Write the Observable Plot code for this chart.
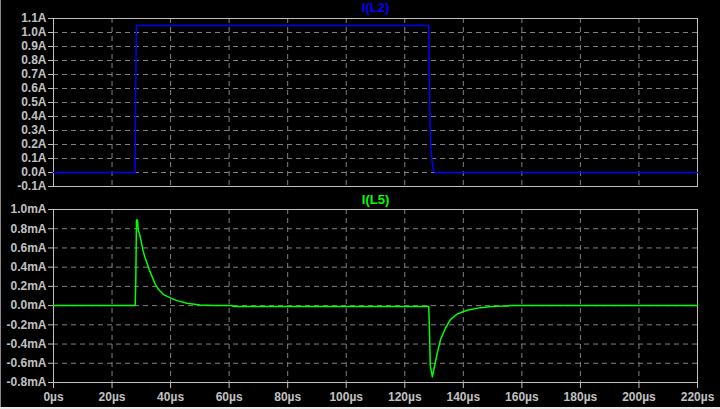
<!DOCTYPE html>
<html>
<head>
<meta charset="utf-8">
<script src="https://cdn.jsdelivr.net/npm/d3@7"></script>
<script src="https://cdn.jsdelivr.net/npm/@observablehq/plot@0.6"></script>
<style>
  html, body { margin: 0; padding: 0; background: #000; }
  #wrap { position: relative; width: 720px; height: 409px; background: #000; overflow: hidden; }
  #wrap svg { display: block; }
  .bl { position: absolute; left: 0; top: 0; width: 1px; height: 409px; background: #8a8a8a; }
  .bb { position: absolute; left: 0; top: 407px; width: 720px; height: 2px; background: #e8e8e8; }
</style>
</head>
<body>
<div id="wrap"></div>
<script>
// I(L2) in amperes
const tL2 = [0, 27.9, 27.95, 28.3, 128.2, 128.4, 128.7, 129.0, 129.4, 129.8, 130.3, 220];
const iL2 = [0, 0, 0.27, 1.05, 1.05, 0.66, 0.31, 0.15, 0.06, 0.02, 0, 0];

// I(L5) in milliamperes
const tL5 = [0, 27.9, 28.1, 28.35, 28.7, 28.95, 29.4, 29.9, 30.5, 31.1, 31.9, 32.7, 33.6, 34.8, 35.9, 37.6, 39.9, 42.2, 45.6, 50.1, 55, 61, 61.5,
             128.2, 128.5, 128.7, 129.4, 129.9, 131.1, 132.2, 133.9, 135.6, 137.9, 141.3, 145.9, 150.5, 155.5, 155.6, 220];
const iL5 = [0, 0, 0.24, 0.89, 0.89, 0.78, 0.745, 0.676, 0.585, 0.516, 0.446, 0.376, 0.307, 0.22, 0.167, 0.115, 0.08, 0.052, 0.024, 0.007, 0.002, 0, -0.01,
             -0.01, -0.34, -0.62, -0.74, -0.67, -0.495, -0.355, -0.233, -0.146, -0.087, -0.049, -0.021, -0.007, -0.003, 0, 0];

const xTicks = [0, 20, 40, 60, 80, 100, 120, 140, 160, 180, 200, 220];
const yTicksL2 = [-0.1, 0, 0.1, 0.2, 0.3, 0.4, 0.5, 0.6, 0.7, 0.8, 0.9, 1.0, 1.1];
const yTicksL5 = [-0.8, -0.6, -0.4, -0.2, 0, 0.2, 0.4, 0.6, 0.8, 1.0];

const titleL2 = "I(L2)";
const titleL5 = "I(L5)";

const dataL2 = tL2.map((t, i) => ({t, v: iL2[i]}));
const dataL5 = tL5.map((t, i) => ({t, v: iL5[i]}));

const grey = "#c0c0c0";
const gridCol = "#808080";
const plotStyle = {background: "#000", color: grey, fontFamily: "'Liberation Sans', Arial, sans-serif", fontSize: "12px", fontWeight: "bold", overflow: "visible"};

const topPlot = Plot.plot({
  width: 720, height: 190,
  marginTop: 18, marginBottom: 4, marginLeft: 53, marginRight: 23,
  style: plotStyle,
  x: {domain: [0, 220], ticks: xTicks, axis: null},
  y: {domain: [-0.1, 1.1], ticks: yTicksL2, label: null},
  marks: [
    Plot.gridX(xTicks, {stroke: gridCol, strokeOpacity: 1, strokeDasharray: "5,4"}),
    Plot.gridY(yTicksL2, {stroke: gridCol, strokeOpacity: 1, strokeDasharray: "5,4"}),
    Plot.frame({stroke: grey, strokeWidth: 1}),
    Plot.axisY({ticks: yTicksL2, tickFormat: d => d.toFixed(1) + "A", tickSize: 5, tickPadding: 2, label: null, stroke: grey, fill: grey}),
    Plot.line(dataL2, {x: "t", y: "v", stroke: "#0000ff", strokeWidth: 1.5}),
    Plot.text([titleL2], {frameAnchor: "top", dy: -11, lineAnchor: "middle", text: d => d, fill: "#0000ff", fontSize: 13, fontWeight: "bold"})
  ]
});

const bottomPlot = Plot.plot({
  width: 720, height: 219,
  marginTop: 19, marginBottom: 27, marginLeft: 53, marginRight: 23,
  style: plotStyle,
  x: {domain: [0, 220], ticks: xTicks, label: null},
  y: {domain: [-0.8, 1.0], ticks: yTicksL5, label: null},
  marks: [
    Plot.gridX(xTicks, {stroke: gridCol, strokeOpacity: 1, strokeDasharray: "5,4"}),
    Plot.gridY(yTicksL5, {stroke: gridCol, strokeOpacity: 1, strokeDasharray: "5,4"}),
    Plot.frame({stroke: grey, strokeWidth: 1}),
    Plot.axisY({ticks: yTicksL5, tickFormat: d => d.toFixed(1) + "mA", tickSize: 5, tickPadding: 2, label: null, stroke: grey, fill: grey}),
    Plot.axisX({ticks: xTicks, tickFormat: d => d + "µs", tickSize: 6, tickPadding: 4, label: null, stroke: grey, fill: grey}),
    Plot.line(dataL5, {x: "t", y: "v", stroke: "#00ff00", strokeWidth: 1.5}),
    Plot.text([titleL5], {frameAnchor: "top", dy: -10, lineAnchor: "middle", text: d => d, fill: "#00ff00", fontSize: 13, fontWeight: "bold"})
  ]
});

const wrap = document.getElementById("wrap");
wrap.appendChild(topPlot);
wrap.appendChild(bottomPlot);
const bl = document.createElement("div"); bl.className = "bl"; wrap.appendChild(bl);
const bb = document.createElement("div"); bb.className = "bb"; wrap.appendChild(bb);
</script>
</body>
</html>
